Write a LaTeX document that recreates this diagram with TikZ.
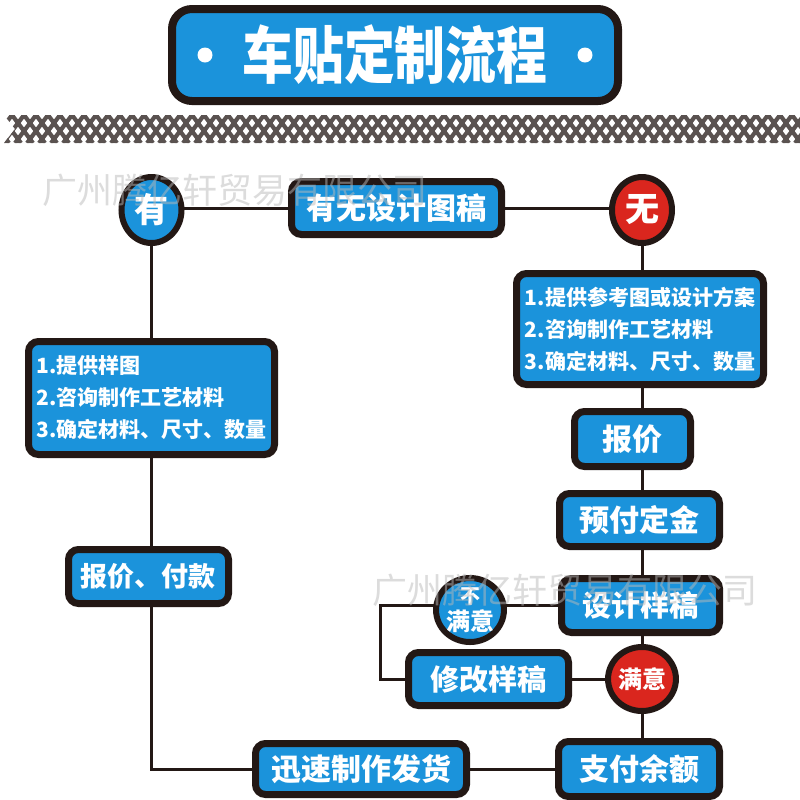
\documentclass[tikz,border=0pt]{standalone}
\usepackage{fontspec}
\newfontfamily\cjk{Noto Sans CJK SC}[BoldFont={Noto Sans CJK SC Black}]
\usepackage{tikz}
\usetikzlibrary{shapes.geometric,backgrounds,calc}
\definecolor{azul}{RGB}{27,147,219}
\definecolor{rojo}{RGB}{218,38,30}
\definecolor{negro}{RGB}{35,24,21}
\tikzset{
  caja/.style={draw=negro,line width=3.5pt,fill=azul,rounded corners=5pt,text=white,inner sep=0pt},
  bola/.style={ellipse,draw=negro,line width=3pt,fill=azul,text=white,inner sep=0pt},
  bolaroja/.style={bola,fill=rojo},
  tam/.style={font=\cjk\bfseries\fontsize{#1}{#1}\selectfont},
  lista/.style={align=left,font=\cjk\bfseries\fontsize{10.5}{16}\selectfont},
  linea/.style={draw=negro,line width=1.5pt},
  marca/.style={text=gray!55,opacity=0.5,font=\cjk\fontsize{17.5}{17.5}\selectfont}
}

\begin{document}
\begin{tikzpicture}[x=0.5pt,y=-0.5pt]
\useasboundingbox (0,0) rectangle (800,800);
% titulo
\node[caja,line width=4pt,rounded corners=10pt,minimum width=223pt,minimum height=46pt,
  tam=31] (titulo) at (395,55) {\scalebox{0.82}[1]{车贴定制流程}};
\fill[white] (205,55) circle (7.5);
\fill[white] (585,55) circle (7.5);
% cinta
\begin{scope}
\clip (4,115) -- (800,115) -- (800,143) -- (4,143) -- (15,129) -- cycle;
\foreach \i in {-2,...,70} {
  \draw[negro!75,line width=2.1pt] (\i*12,115) -- ++(21,28);
  \draw[negro!75,line width=2.1pt] (\i*12,115) -- ++(-21,28);
}
\end{scope}
% fila superior
\node[bola,minimum width=30pt,minimum height=33pt,tam=17] (si) at (151.5,210) {有};
\node[caja,minimum width=105pt,minimum height=26.5pt,tam=15] (pregunta) at (396.5,208) {有无设计图稿};
\node[bolaroja,minimum width=30pt,minimum height=33pt,tam=17] (no) at (642,210) {无};
% rama izquierda
\node[caja,lista,minimum width=123pt,minimum height=56.5pt] (muestra) at (151.5,398)
  {1.提供样图\\2.咨询制作工艺材料\\3.确定材料、尺寸、数量};
\node[caja,minimum width=80pt,minimum height=27pt,tam=13.5] (pago) at (148.5,576.5) {报价、付款};
\node[caja,minimum width=105.5pt,minimum height=25.5pt,tam=15] (envio) at (361,769) {迅速制作发货};
% rama derecha
\node[caja,lista,minimum width=123.5pt,minimum height=55.5pt] (plan) at (640,329)
  {1.提供参考图或设计方案\\2.咨询制作工艺材料\\3.确定材料、尺寸、数量};
\node[caja,minimum width=58pt,minimum height=27.5pt,tam=15] (precio) at (632.5,439) {报价};
\node[caja,minimum width=80pt,minimum height=26.5pt,tam=15] (anticipo) at (639.5,520) {预付定金};
\node[caja,minimum width=79pt,minimum height=27pt,tam=14.5] (boceto) at (640.5,605.5) {设计样稿};
\node[bola,minimum width=30pt,minimum height=32pt,align=center,font=\cjk\bfseries\fontsize{12}{13.5}\selectfont]
  (mal) at (470,610) {{\fontsize{10}{10}\selectfont 不}\\满意};
\node[caja,minimum width=80pt,minimum height=26.5pt,tam=14.5] (cambio) at (488.5,679) {修改样稿};
\node[bolaroja,minimum width=32pt,minimum height=32pt,tam=12] (bien) at (642,679) {满意};
\node[caja,minimum width=80.5pt,minimum height=27.5pt,tam=15] (saldo) at (639,769) {支付余额};
\coordinate (vuelta) at (380,605.5);
% conectores
\begin{scope}[on background layer]
\draw[linea] (pregunta) -- (pregunta -| si);
\draw[linea] (pregunta) -- (pregunta -| no);
\draw[linea] (si) |- (envio);
\draw[linea] (no) -- (no |- saldo);
\draw[linea] (boceto) -- (vuelta) |- (cambio);
\draw[linea] (cambio) -- (bien);
\draw[linea] (envio) -- (saldo);
\end{scope}
% marcas de agua
\node[marca] (marca1) at (235,190) {广州腾亿轩贸易有限公司};
\node[marca] (marca2) at (565,590) {广州腾亿轩贸易有限公司};
\end{tikzpicture}
\end{document}
